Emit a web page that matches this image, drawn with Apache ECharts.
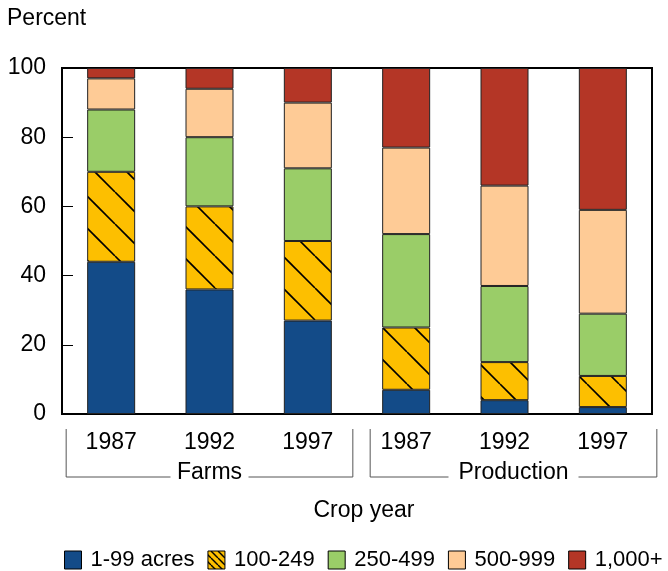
<!DOCTYPE html>
<html><head><meta charset="utf-8">
<script src="https://cdn.jsdelivr.net/npm/echarts@6/dist/echarts.min.js"></script>
<style>html,body{margin:0;padding:0;background:#fff}#c{width:668px;height:571px}</style>
</head><body><div id="c"></div>
<script>
const years = ['1987','1992','1997','1987','1992','1997'];
const groups = ['Farms','Production'];
const seriesNames = ['1-99 acres','100-249','250-499','500-999','1,000+'];
const s1to99 = [44, 36, 27, 7, 4, 2];
const s100to249 = [26, 24, 23, 18, 11, 9];
const s250to499 = [18, 20, 21, 27, 22, 18];
const s500to999 = [9, 14, 19, 25, 29, 30];
const s1000plus = [3, 6, 10, 23, 34, 41];
const yTicks = [0, 20, 40, 60, 80, 100];

const colors = ['#134b88', '#fdbf00', '#9acd68', '#fecb96', '#b43626'];
const hatchPhases = [19, 23, 27, 23, 20, 11];

function hatch(n, ph, lw) {
  const c = document.createElement('canvas');
  c.width = n; c.height = n;
  const g = c.getContext('2d');
  g.fillStyle = colors[1]; g.fillRect(0, 0, n, n);
  g.strokeStyle = '#000'; g.lineWidth = lw;
  [-n, 0, n].forEach(k => { g.beginPath(); g.moveTo(k + ph, 0); g.lineTo(k + ph + n, n); g.stroke(); });
  return { image: c, repeat: 'repeat' };
}
const data = [s1to99, s100to249, s250to499, s500to999, s1000plus];

const chart = echarts.init(document.getElementById('c'), null, {renderer: 'canvas'});
const font = 'Liberation Sans, Arial, sans-serif';
const FS = 23;
chart.setOption({
  animation: false,
  textStyle: { fontFamily: font },
  grid: { left: 62, right: 16, top: 68, bottom: 157, show: true, borderColor: '#000', borderWidth: 2, backgroundColor: 'transparent' },
  legend: {
    left: 59, top: 544, itemWidth: 17, itemHeight: 18, itemGap: 13, icon: 'rect',
    data: seriesNames.map((n, i) => i === 1 ? { name: n, itemStyle: { color: hatch(7, 3, 1.4) } } : { name: n }),
    textStyle: { fontSize: 22, color: '#000', fontFamily: font, padding: [0, 0, 0, 4] },
    itemStyle: { borderColor: '#000', borderWidth: 1 }
  },
  xAxis: {
    type: 'category', data: years,
    axisLine: { lineStyle: { color: '#000', width: 2 } },
    axisTick: { alignWithLabel: true, length: 10, lineStyle: { color: '#555' } },
    axisLabel: { fontSize: FS, color: '#000', margin: 17, fontFamily: font }
  },
  yAxis: {
    type: 'value', min: 0, max: 100, interval: 20,
    axisLine: { show: true, lineStyle: { color: '#000', width: 2 } },
    axisTick: { show: true, inside: true, length: 11, lineStyle: { color: '#000' } },
    axisLabel: { fontSize: FS, color: '#000', margin: 16, fontFamily: font, formatter: v => yTicks.includes(v) ? String(v) : '' },
    splitLine: { show: false }
  },
  series: data.map((d, i) => ({
    name: seriesNames[i], type: 'bar', stack: 'a', barWidth: 48,
    data: i === 1 ? d.map((v, j) => ({ value: v, itemStyle: { color: hatch(32, hatchPhases[j], 1.6) } })) : d,
    itemStyle: { color: colors[i], borderColor: '#222', borderWidth: 1 }
  }))
});

// group brackets computed from axis positions
const p = i => chart.convertToPixel({xAxisIndex: 0}, i);
const pads = [[45, 45], [36, 54]];
const halves = [39, 65];
const els = [];
groups.forEach((g, gi) => {
  const x0 = p(gi * 3) - pads[gi][0], x1 = p(gi * 3 + 2) + pads[gi][1];
  const mid = (x0 + x1) / 2, yTop = 429, yBot = 477;
  const half = halves[gi];
  const ls = { stroke: '#555', lineWidth: 1 };
  els.push({ type: 'polyline', shape: { points: [[x0, yTop], [x0, yBot], [mid - half, yBot]] }, style: ls });
  els.push({ type: 'polyline', shape: { points: [[mid + half, yBot], [x1, yBot], [x1, yTop]] }, style: ls });
  els.push({ type: 'text', x: mid, y: 473, style: { text: g, fontSize: FS, fill: '#000', fontFamily: font, align: 'center', verticalAlign: 'middle' } });
});
chart.setOption({ graphic: [
  { type: 'text', x: 7, y: 19, style: { text: 'Percent', fontSize: FS, fill: '#000', fontFamily: font, verticalAlign: 'middle' } },
  { type: 'text', x: 364, y: 511, style: { text: 'Crop year', fontSize: FS, fill: '#000', fontFamily: font, align: 'center', verticalAlign: 'middle' } },
  ...els
] });
</script></body></html>
